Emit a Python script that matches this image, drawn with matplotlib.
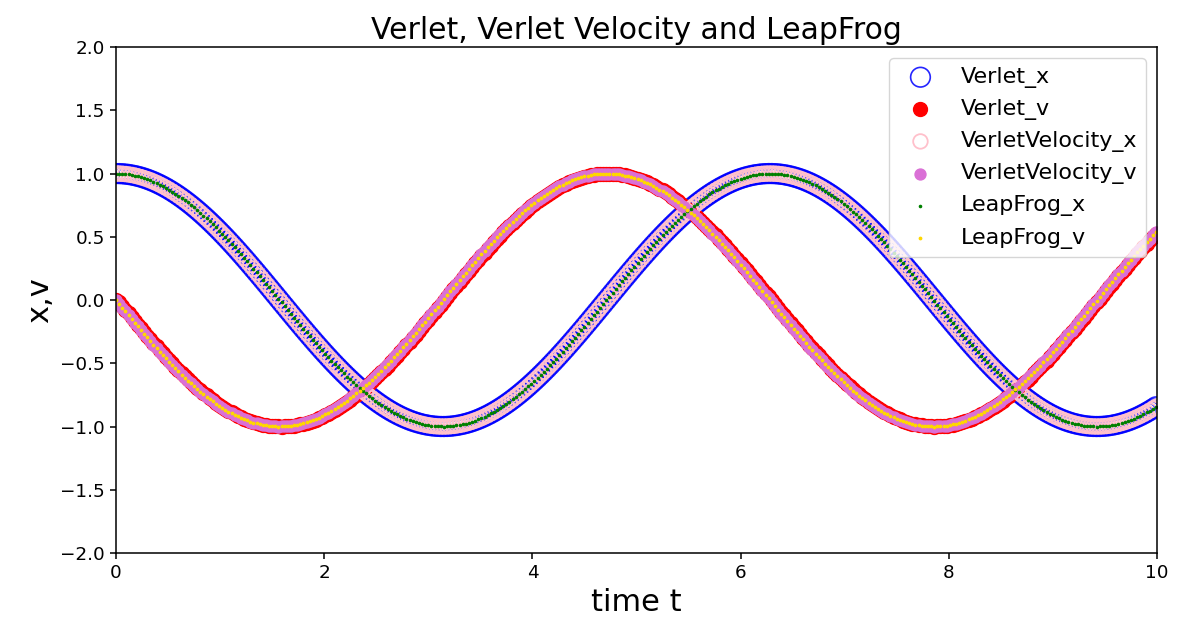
import numpy as np
import matplotlib
matplotlib.use('agg')
import matplotlib.pyplot as plt

# simple harmonic oscillator
x0 = 1.0          # x at t=0
v0 = 0.0          # v at t=0
omega = 1.0       # period ~ 2*pi (peaks at t~0, 6.3)
dt = 0.03         # spacing of the markers
t_end = 10.0

labels = ["Verlet_x", "Verlet_v", "VerletVelocity_x", "VerletVelocity_v",
          "LeapFrog_x", "LeapFrog_v"]


def accel(x):
    return -omega**2 * x


def verlet(n):
    x = np.zeros(n)
    v = np.zeros(n)
    x[0] = x0
    v[0] = v0
    x[1] = x0 + v0*dt + 0.5*accel(x0)*dt**2
    for i in range(1, n-1):
        x[i+1] = 2*x[i] - x[i-1] + accel(x[i])*dt**2
    for i in range(1, n):
        v[i] = (x[i] - x[i-1])/dt
    return x, v


def verlet_velocity(n):
    x = np.zeros(n)
    v = np.zeros(n)
    x[0] = x0
    v[0] = v0
    for i in range(n-1):
        x[i+1] = x[i] + v[i]*dt + 0.5*accel(x[i])*dt**2
        v[i+1] = v[i] + 0.5*(accel(x[i]) + accel(x[i+1]))*dt
    return x, v


def leapfrog(n):
    x = np.zeros(n)
    v = np.zeros(n)
    x[0] = x0
    v[0] = v0
    vh = v0 + 0.5*accel(x0)*dt
    for i in range(n-1):
        x[i+1] = x[i] + vh*dt
        v[i+1] = vh + 0.5*accel(x[i+1])*dt
        vh = vh + accel(x[i+1])*dt
    return x, v


n = int(round(t_end/dt)) + 1
t = np.arange(n)*dt
xv, vv = verlet(n)
xvv, vvv = verlet_velocity(n)
xl, vl = leapfrog(n)

fig = plt.figure(figsize=(11.79, 6.19), dpi=100)
ax = fig.add_axes([0.0984, 0.1066, 0.8829, 0.8174])

ax.scatter(t, xv, s=200, facecolors='none', edgecolors='blue', linewidths=1.2, alpha=0.85, label=labels[0])
ax.scatter(t, vv, s=100, color='red', label=labels[1])
ax.scatter(t, xvv, s=110, facecolors='none', edgecolors='pink', linewidths=1.3, label=labels[2])
ax.scatter(t, vvv, s=62, color='orchid', label=labels[3])
ax.scatter(t, xl, s=2.5, color='green', label=labels[4])
ax.scatter(t, vl, s=3, color='gold', label=labels[5])

ax.set_xlim(0, 10)
ax.set_ylim(-2, 2)
ax.tick_params(labelsize=13.2, length=4.6, width=1.1)
for sp in ax.spines.values():
    sp.set_linewidth(1.1)
ax.set_title("Verlet, Verlet Velocity and LeapFrog", fontsize=21.5)
ax.set_xlabel("time t", fontsize=22)
ax.set_ylabel("x,v", fontsize=22)
ax.legend(loc='upper right', fontsize=16)

plt.savefig("out.png", dpi=100)
plt.close("all")
